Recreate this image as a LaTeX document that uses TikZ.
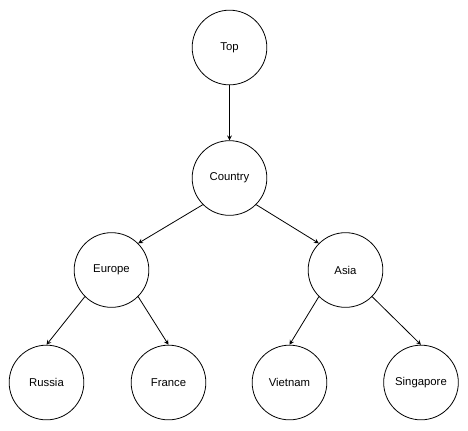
\documentclass[tikz,border=0pt]{standalone}
\usepackage{fontspec}
\setmainfont{Liberation Sans}
\begin{document}
\begin{tikzpicture}[x=0.75pt, y=-0.75pt]
  \tikzstyle{place} = [circle, draw, line width=0.6pt, minimum size=56pt, inner sep=0pt, font=\fontsize{8.5}{10}\selectfont]
  \tikzstyle{arrow} = [line width=0.6pt,->,>=stealth]

  \useasboundingbox (0,0) rectangle (468,430);

  % Nodes
  \node (top) [place] at (229.5,47.5) {Top};
  \node (country) [place] at (229.5,178) {Country};

  \node (europe) [place] at (111.5,270) {Europe};
  \node (asia) [place] at (345.5,270) {Asia};

  \node (russia) [place] at (46.5,382.5) {Russia};
  \node (france) [place] at (168.5,382.5) {France};
  \node (vietnam) [place] at (289.5,382.5) {Vietnam};
  \node (singapore) [place] at (421,382.5) {Singapore};

  % Arrows
  \draw[arrow] (top) -- (country);
  \draw[arrow] (country.south west) -- (europe.north east);
  \draw[arrow] (country.south east) -- (asia.north west);
  \draw[arrow] (europe.south west) -- (russia.north);
  \draw[arrow] (europe.south east) -- (france.north);
  \draw[arrow] (asia.south west) -- (vietnam.north);
  \draw[arrow] (asia.south east) -- (singapore.north);

\end{tikzpicture}
\end{document}
